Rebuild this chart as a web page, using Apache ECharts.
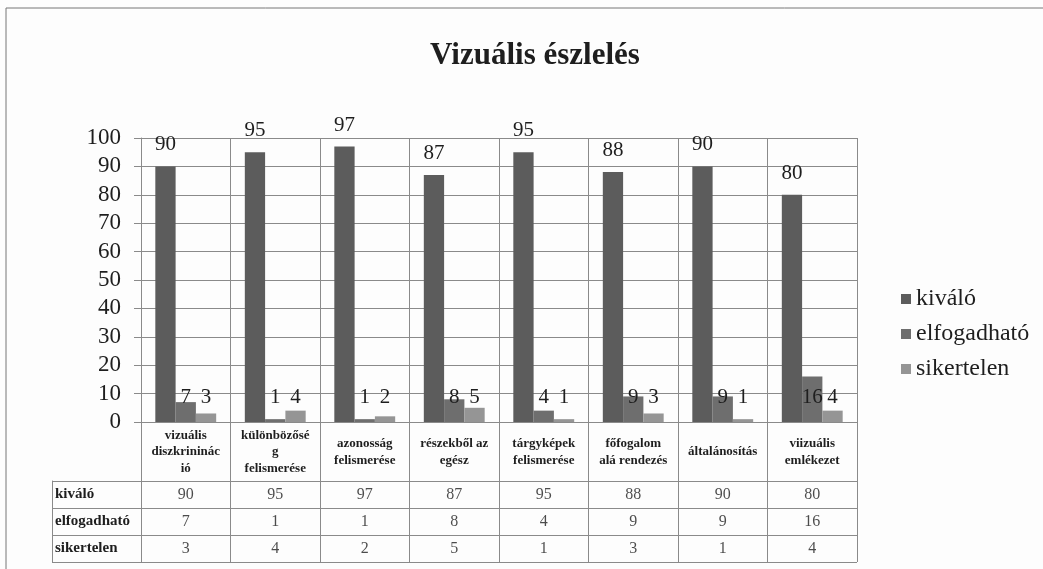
<!DOCTYPE html>
<html>
<head>
<meta charset="utf-8">
<script src="https://cdn.jsdelivr.net/npm/echarts@6/dist/echarts.min.js"></script>
<style>
  html, body { margin: 0; padding: 0; background: #fdfdfd; }
  #chart { width: 1043px; height: 569px; }
</style>
</head>
<body>
<div id="chart"></div>
<script>
  // kategóriák (a tengelyen tördelve, ahogy a képen)
  var categories = [
    'vizuális\ndiszkrininác\nió',
    'különbözősé\ng\nfelismerése',
    'azonosság\nfelismerése',
    'részekből az\negész',
    'tárgyképek\nfelismerése',
    'főfogalom\nalá rendezés',
    'általánosítás',
    'viizuális\nemlékezet'
  ];
  var seriesNames = ['kiváló', 'elfogadható', 'sikertelen'];
  var kivalo      = [90, 95, 97, 87, 95, 88, 90, 80];
  var elfogadhato = [7, 1, 1, 8, 4, 9, 9, 16];
  var sikertelen  = [3, 4, 2, 5, 1, 3, 1, 4];
  var yTicks = [0, 10, 20, 30, 40, 50, 60, 70, 80, 90, 100];

  var serif = "'Liberation Serif', 'Times New Roman', serif";
  var gridColor = '#8a8a8a';
  var textColor = '#1e1e1e';

  // táblázat cellái: [oszlop, sor, érték]
  var tableCells = [];
  [kivalo, elfogadhato, sikertelen].forEach(function (arr, r) {
    arr.forEach(function (v, c) { tableCells.push([c, r, v]); });
  });

  var chart = echarts.init(document.getElementById('chart'));
  var option = {
    backgroundColor: '#fdfdfd',
    animation: false,
    title: {
      text: 'Vizuális észlelés',
      left: 530,
      top: 35,
      textAlign: 'center',
      textStyle: { fontFamily: serif, fontSize: 31, fontWeight: 'bold', color: textColor }
    },
    legend: {
      data: seriesNames,
      orient: 'vertical',
      left: 896,
      top: 282,
      itemWidth: 10,
      itemHeight: 10,
      itemGap: 11,
      itemTextGap: 5,
      icon: 'rect',
      textStyle: { fontFamily: serif, fontSize: 24, color: textColor }
    },
    graphic: [{
      type: 'rect',
      shape: { x: 6, y: 8, width: 1060, height: 600 },
      style: { fill: 'none', stroke: '#777', lineWidth: 1 },
      silent: true
    }],
    grid: [
      { left: 141, right: 186, top: 138, bottom: 147 },
      { left: 141, right: 186, top: 481, bottom: 7 }
    ],
    xAxis: [{
      type: 'category',
      gridIndex: 0,
      data: categories,
      axisLine: { show: true, lineStyle: { color: gridColor } },
      axisTick: { show: true, interval: 0, length: 59, lineStyle: { color: gridColor } },
      splitLine: { show: true, interval: 0, lineStyle: { color: gridColor } },
      axisLabel: {
        interval: 0,
        margin: 30,
        verticalAlign: 'middle',
        fontFamily: serif,
        fontSize: 13,
        fontWeight: 'bold',
        lineHeight: 16.5,
        color: textColor
      }
    }, {
      type: 'category',
      gridIndex: 1,
      data: categories,
      axisLine: { show: false },
      axisTick: { show: false },
      axisLabel: { show: false },
      splitLine: { show: true, interval: 0, lineStyle: { color: gridColor } }
    }],
    yAxis: [{
      type: 'value',
      gridIndex: 0,
      min: yTicks[0],
      max: yTicks[yTicks.length - 1],
      interval: 10,
      axisLine: { show: true, lineStyle: { color: gridColor } },
      axisTick: { show: true, length: 7, lineStyle: { color: gridColor } },
      splitLine: { show: true, lineStyle: { color: gridColor } },
      axisLabel: { margin: 20, fontFamily: serif, fontSize: 23, color: textColor }
    }, {
      type: 'category',
      gridIndex: 1,
      inverse: true,
      data: seriesNames,
      axisLine: { show: true, lineStyle: { color: gridColor } },
      axisTick: { show: true, interval: 0, length: 89, lineStyle: { color: gridColor } },
      splitLine: { show: true, interval: 0, lineStyle: { color: gridColor } },
      axisLabel: {
        interval: 0,
        align: 'left',
        margin: 86,
        fontFamily: serif,
        fontSize: 15,
        fontWeight: 'bold',
        color: textColor
      }
    }, {
      type: 'category',
      gridIndex: 1,
      position: 'left',
      offset: 89,
      data: seriesNames,
      axisLine: { show: true, lineStyle: { color: gridColor } },
      axisTick: { show: false },
      axisLabel: { show: false }
    }],
    series: [{
      name: 'kiváló',
      type: 'bar',
      data: kivalo,
      barGap: '0%',
      barCategoryGap: '32%',
      itemStyle: { color: '#5c5c5c' },
      label: {
        show: true, position: 'top', distance: 11,
        fontFamily: serif, fontSize: 21, color: textColor
      }
    }, {
      name: 'elfogadható',
      type: 'bar',
      data: elfogadhato,
      itemStyle: { color: '#6e6e6e' },
      label: {
        show: true, position: 'insideBottom', distance: 14,
        fontFamily: serif, fontSize: 21, color: textColor
      }
    }, {
      name: 'sikertelen',
      type: 'bar',
      data: sikertelen,
      itemStyle: { color: '#959595' },
      label: {
        show: true, position: 'insideBottom', distance: 14,
        fontFamily: serif, fontSize: 21, color: textColor
      }
    }, {
      name: 'tabla',
      type: 'scatter',
      xAxisIndex: 1,
      yAxisIndex: 1,
      data: tableCells,
      symbolSize: 1,
      itemStyle: { color: 'rgba(0,0,0,0)' },
      silent: true,
      label: {
        show: true,
        position: 'inside',
        formatter: function (p) { return p.value[2]; },
        fontFamily: serif,
        fontSize: 16,
        color: textColor
      }
    }]
  };
  chart.setOption(option);
  window.onresize = function () {
    chart.resize();
  };
</script>
</body>
</html>
